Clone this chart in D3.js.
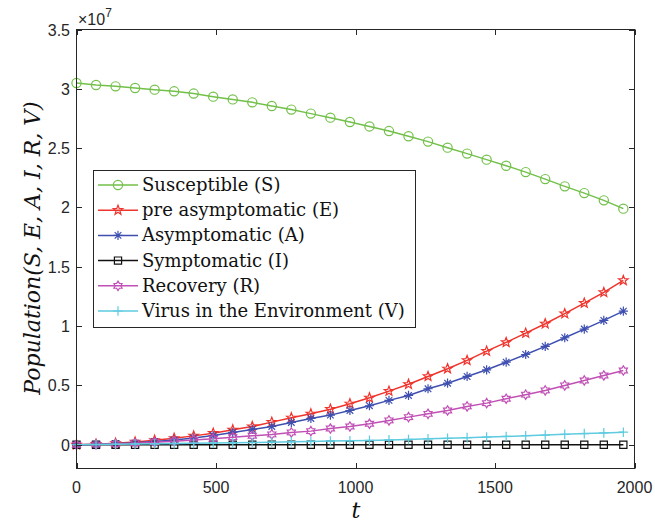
<!DOCTYPE html>
<html lang="en">
<head>
<meta charset="UTF-8">
<title>SEAIRV</title>
<script src="https://d3js.org/d3.v7.min.js"></script>
<style>
    body { margin: 0; background: #fff; }
    .tick-label { font-family: "Liberation Sans", Arial, sans-serif; font-size: 16px; fill: #262626; }
    .legend-text { font-family: "DejaVu Serif", serif; font-size: 18px; fill: #111; }
</style>
</head>
<body>
<div id="chart"></div>
<script>
    // time points where the markers sit
    var tValues = [0, 70, 140, 210, 280, 350, 420, 490, 560, 630, 700, 770, 840, 910, 980,
        1050, 1120, 1190, 1260, 1330, 1400, 1470, 1540, 1610, 1680, 1750, 1820, 1890, 1960];

    // populations, in units of 1e7
    var susceptible = [3.049, 3.032, 3.021, 3.007, 2.993, 2.979, 2.960, 2.934, 2.911, 2.886,
        2.855, 2.825, 2.791, 2.757, 2.720, 2.683, 2.644, 2.600, 2.555, 2.504,
        2.454, 2.403, 2.352, 2.298, 2.239, 2.178, 2.121, 2.060, 1.990];
    var preAsymptomatic = [0.000, 0.005, 0.013, 0.024, 0.038, 0.055, 0.075, 0.098, 0.126, 0.154,
        0.191, 0.228, 0.261, 0.300, 0.346, 0.396, 0.452, 0.510, 0.576, 0.641,
        0.711, 0.789, 0.863, 0.941, 1.020, 1.105, 1.194, 1.284, 1.385];
    var asymptomatic = [0.000, 0.003, 0.008, 0.016, 0.027, 0.041, 0.058, 0.078, 0.104, 0.129,
        0.154, 0.188, 0.222, 0.250, 0.289, 0.329, 0.374, 0.416, 0.472, 0.519,
        0.576, 0.632, 0.696, 0.761, 0.829, 0.902, 0.975, 1.048, 1.126];
    var symptomatic = [0.000, 0.000, 0.000, 0.000, 0.000, 0.000, 0.000, 0.000, 0.000, 0.000,
        0.000, 0.000, 0.000, 0.000, 0.000, 0.000, 0.000, 0.000, 0.000, 0.000,
        0.000, 0.000, 0.000, 0.000, 0.000, 0.000, 0.000, 0.000, 0.000];
    var recovery = [0.000, 0.003, 0.007, 0.013, 0.021, 0.030, 0.040, 0.051, 0.064, 0.076,
        0.087, 0.104, 0.115, 0.137, 0.154, 0.177, 0.205, 0.233, 0.261, 0.289,
        0.323, 0.351, 0.388, 0.422, 0.458, 0.500, 0.542, 0.584, 0.626];
    var virus = [0.000, 0.002, 0.004, 0.006, 0.008, 0.010, 0.012, 0.014, 0.016, 0.019,
        0.022, 0.025, 0.028, 0.031, 0.034, 0.037, 0.041, 0.045, 0.050, 0.055,
        0.060, 0.065, 0.070, 0.076, 0.082, 0.088, 0.094, 0.100, 0.106];

    var xTicks = [0, 500, 1000, 1500, 2000];
    var yTicks = [0, 0.5, 1, 1.5, 2, 2.5, 3, 3.5];

    var series = [
        { name: "Susceptible (S)", values: susceptible, color: "#72c04a", marker: "circle" },
        { name: "pre asymptomatic (E)", values: preAsymptomatic, color: "#f0332c", marker: "pentagram" },
        { name: "Asymptomatic (A)", values: asymptomatic, color: "#3e4fb0", marker: "asterisk" },
        { name: "Symptomatic (I)", values: symptomatic, color: "#111111", marker: "square" },
        { name: "Recovery (R)", values: recovery, color: "#c050b5", marker: "hexagram" },
        { name: "Virus in the Environment (V)", values: virus, color: "#5ecbe0", marker: "plus" }
    ];

    var width = 655, height = 523;
    var plotLeft = 76.5, plotRight = 634.5, plotTop = 29.5, plotBottom = 468.5;

    var x = d3.scaleLinear().domain([0, 2000]).range([plotLeft, plotRight]);
    var y = d3.scaleLinear().domain([-0.2, 3.5]).range([plotBottom, plotTop]);

    var svg = d3.select("#chart").append("svg")
        .attr("width", width)
        .attr("height", height);

    // marker shapes as path strings centred on 0,0
    var starPath = function(points, outer, inner) {
        var pts = [];
        for (var i = 0; i < points * 2; ++i) {
            var r = i % 2 === 0 ? outer : inner;
            var a = -Math.PI / 2 + i * Math.PI / points;
            pts.push([r * Math.cos(a), r * Math.sin(a)]);
        }
        return "M" + pts.map(function(p) { return p[0].toFixed(2) + "," + p[1].toFixed(2); }).join("L") + "Z";
    };
    var markerPath = function(kind) {
        if (kind === "circle") return d3.symbol(d3.symbolCircle, Math.PI * 4.6 * 4.6)();
        if (kind === "square") return "M-3.6,-3.6H3.6V3.6H-3.6Z";
        if (kind === "pentagram") return starPath(5, 5.0, 2.1);
        if (kind === "hexagram") return starPath(6, 4.7, 2.8);
        if (kind === "plus") return "M-4.8,0H4.8M0,-4.8V4.8";
        if (kind === "asterisk") {
            return "M-4.6,0H4.6M0,-4.6V4.6M-3.3,-3.3L3.3,3.3M-3.3,3.3L3.3,-3.3";
        }
        return "";
    };

    // plot box background
    svg.append("rect")
        .attr("x", plotLeft).attr("y", plotTop)
        .attr("width", plotRight - plotLeft).attr("height", plotBottom - plotTop)
        .style("fill", "white");

    var line = d3.line()
        .x(function(d, i) { return x(tValues[i]); })
        .y(function(d) { return y(d); });

    series.forEach(function(s) {
        var g = svg.append("g");
        g.append("path")
            .attr("d", line(s.values))
            .style("fill", "none")
            .style("stroke", s.color)
            .style("stroke-width", 1.5);
        g.selectAll("path.marker")
            .data(s.values)
            .enter().append("path")
            .attr("class", "marker")
            .attr("transform", function(d, i) { return "translate(" + x(tValues[i]) + "," + y(d) + ")"; })
            .attr("d", markerPath(s.marker))
            .style("fill", "none")
            .style("stroke", s.color)
            .style("stroke-width", 1.2);
    });

    // axes box with inward ticks on all four sides
    var axisColor = "#262626";
    svg.append("rect")
        .attr("x", plotLeft).attr("y", plotTop)
        .attr("width", plotRight - plotLeft).attr("height", plotBottom - plotTop)
        .style("fill", "none")
        .style("stroke", axisColor)
        .style("stroke-width", 1);

    var tickLen = 5.5;
    xTicks.forEach(function(t) {
        var px = Math.round(x(t)) + 0.5;
        svg.append("line").attr("x1", px).attr("x2", px).attr("y1", plotBottom).attr("y2", plotBottom - tickLen)
            .style("stroke", axisColor);
        svg.append("line").attr("x1", px).attr("x2", px).attr("y1", plotTop).attr("y2", plotTop + tickLen)
            .style("stroke", axisColor);
        svg.append("text")
            .attr("class", "tick-label")
            .attr("x", x(t))
            .attr("y", 493)
            .attr("text-anchor", "middle")
            .text(t);
    });
    yTicks.forEach(function(v) {
        var py = Math.round(y(v)) + 0.5;
        svg.append("line").attr("x1", plotLeft).attr("x2", plotLeft + tickLen).attr("y1", py).attr("y2", py)
            .style("stroke", axisColor);
        svg.append("line").attr("x1", plotRight).attr("x2", plotRight - tickLen).attr("y1", py).attr("y2", py)
            .style("stroke", axisColor);
        svg.append("text")
            .attr("class", "tick-label")
            .attr("x", 70)
            .attr("y", y(v) + 6)
            .attr("text-anchor", "end")
            .text(v);
    });

    // exponent label
    var expo = svg.append("text")
        .attr("class", "tick-label")
        .attr("x", 78)
        .attr("y", 25);
    expo.append("tspan").text("\u00d710");
    expo.append("tspan").attr("dy", -8).style("font-size", "12px").text("7");

    // axis titles
    svg.append("text")
        .attr("x", 356)
        .attr("y", 518)
        .attr("text-anchor", "middle")
        .style("font-family", "DejaVu Serif, serif")
        .style("font-style", "italic")
        .style("font-size", "22px")
        .style("fill", "#111")
        .text("t");

    svg.append("text")
        .attr("transform", "translate(40,248) rotate(-90)")
        .attr("text-anchor", "middle")
        .style("font-family", "DejaVu Serif, serif")
        .style("font-style", "italic")
        .style("font-size", "22px")
        .style("fill", "#111")
        .text("Population(S, E, A, I, R, V)");

    // legend
    var lg = svg.append("g");
    lg.append("rect")
        .attr("x", 93.5).attr("y", 170.5)
        .attr("width", 322).attr("height", 157)
        .style("fill", "white")
        .style("stroke", axisColor)
        .style("stroke-width", 1);
    series.forEach(function(s, i) {
        var cy = 185 + i * 25.2;
        lg.append("line")
            .attr("x1", 98).attr("x2", 138).attr("y1", cy).attr("y2", cy)
            .style("stroke", s.color).style("stroke-width", 1.5);
        lg.append("path")
            .attr("transform", "translate(118," + cy + ")")
            .attr("d", markerPath(s.marker))
            .style("fill", "none").style("stroke", s.color).style("stroke-width", 1.2);
        lg.append("text")
            .attr("class", "legend-text")
            .attr("x", 142)
            .attr("y", cy + 6)
            .text(s.name);
    });
</script>
</body>
</html>
